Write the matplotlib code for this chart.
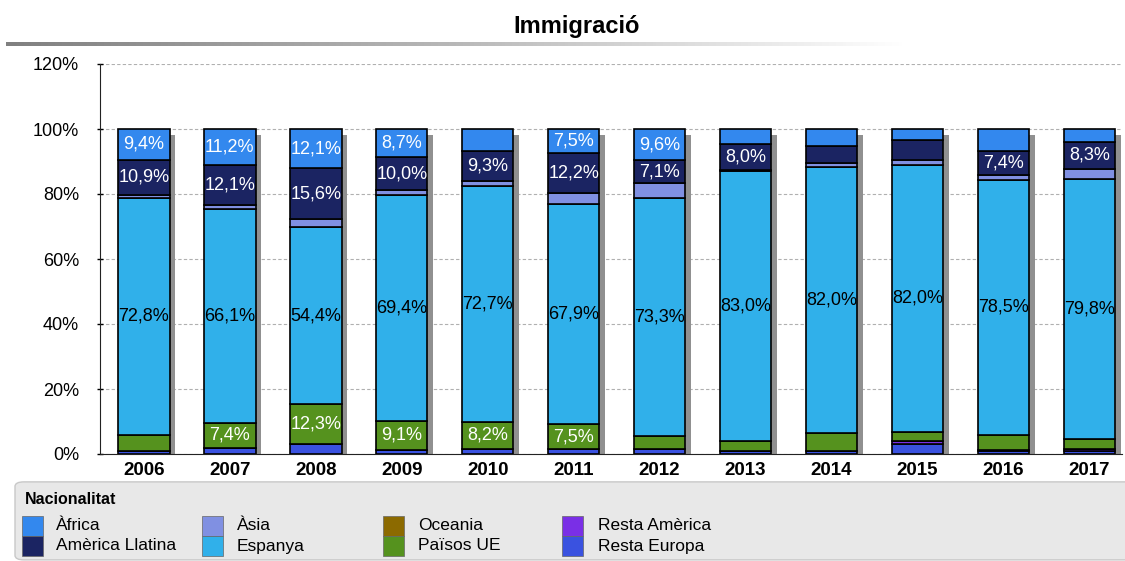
import matplotlib
matplotlib.use("Agg")
import matplotlib.pyplot as plt
import numpy as np
from matplotlib.patches import FancyBboxPatch, Rectangle
from matplotlib.colors import LinearSegmentedColormap

plt.rcParams['font.family'] = ['Liberation Sans', 'DejaVu Sans']

years = ['2006', '2007', '2008', '2009', '2010', '2011', '2012', '2013', '2014', '2015', '2016', '2017']
resta_europa = [1.0, 2.0, 3.1, 1.2, 1.6, 1.6, 1.5, 1.0, 1.0, 3.0, 1.0, 1.0]
resta_america = [0.0, 0.0, 0.0, 0.0, 0.0, 0.0, 0.0, 0.0, 0.0, 0.9, 0.3, 0.4]
oceania = [0.0, 0.0, 0.0, 0.0, 0.0, 0.0, 0.0, 0.0, 0.0, 0.0, 0.0, 0.0]
paisos_ue = [5.0, 7.4, 12.3, 9.1, 8.2, 7.5, 4.0, 3.0, 5.4, 3.0, 4.6, 3.3]
espanya = [72.8, 66.1, 54.4, 69.4, 72.7, 67.9, 73.3, 83.0, 82.0, 82.0, 78.5, 79.8]
asia = [0.9, 1.2, 2.5, 1.6, 1.5, 3.3, 4.5, 0.5, 1.2, 1.5, 1.5, 3.3]
america_llatina = [10.9, 12.1, 15.6, 10.0, 9.3, 12.2, 7.1, 8.0, 5.2, 6.1, 7.4, 8.3]
africa = [9.4, 11.2, 12.1, 8.7, 6.7, 7.5, 9.6, 4.5, 5.2, 3.5, 6.7, 3.9]

# stacking order bottom -> top
stack = [
    ('Resta Europa', resta_europa, '#3a52e0', 'white'),
    ('Resta Amèrica', resta_america, '#7a2fe6', 'white'),
    ('Oceania', oceania, '#8c6a00', 'white'),
    ('Països UE', paisos_ue, '#55921e', 'white'),
    ('Espanya', espanya, '#30b0ea', 'black'),
    ('Àsia', asia, '#8090e2', 'white'),
    ('Amèrica Llatina', america_llatina, '#1b2462', 'white'),
    ('Àfrica', africa, '#3388ee', 'white'),
]
legend_order = ['Àfrica', 'Amèrica Llatina', 'Àsia', 'Espanya',
                'Oceania', 'Països UE', 'Resta Amèrica', 'Resta Europa']
colors = {name: c for name, _, c, _ in stack}

W, H = 1125, 561
fig = plt.figure(figsize=(W / 100, H / 100), dpi=100)
ax = fig.add_axes([100 / W, 1 - 454 / H, 1022 / W, 390 / H])

x = np.arange(len(years))
bw = 0.6
# shadows
totals = np.sum([np.array(v) for _, v, _, _ in stack], axis=0)
ax.bar(x + 0.065, totals - 1.8, width=bw, color='#909090', zorder=1, linewidth=0)

bottom = np.zeros(len(years))
for name, vals, col, tcol in stack:
    vals = np.array(vals)
    ax.bar(x, vals, width=bw, bottom=bottom, color=col, edgecolor='black',
           linewidth=1.2, zorder=2)
    for i, v in enumerate(vals):
        if v >= 7:
            ax.text(x[i], bottom[i] + v / 2, f"{v:.1f}".replace('.', ',') + '%',
                    ha='center', va='center', color=tcol, fontsize=13, zorder=3)
    bottom += vals

ax.set_xlim(-0.51, 11.38)
ax.set_ylim(0, 120)
ax.set_yticks(range(0, 121, 20))
ax.set_yticklabels([f"{t}%" for t in range(0, 121, 20)], fontsize=13)
ax.set_xticks(x)
ax.set_xticklabels(years, fontsize=13.5, fontweight='bold')
ax.tick_params(axis='x', length=0, pad=6)
ax.tick_params(axis='y', length=4, width=1, pad=13, direction='inout')
ax.grid(axis='y', linestyle=(0, (3, 2)), color='#b0b0b0', linewidth=0.8, zorder=0)
ax.set_axisbelow(True)
for s in ['top', 'right']:
    ax.spines[s].set_visible(False)
ax.spines['left'].set_color('#222222')
ax.spines['bottom'].set_color('#222222')

# title
fig.text(577 / W, 1 - 27 / H, 'Immigració', ha='center', va='center',
         fontsize=17, fontweight='bold')
# gradient line below title
gax = fig.add_axes([6 / W, 1 - 46 / H, 900 / W, 4 / H])
grad = np.linspace(0, 1, 256)[None, :]
cmap = LinearSegmentedColormap.from_list('g', ['#808080', '#b8b8b8', '#ffffff'])
gax.imshow(grad, aspect='auto', cmap=cmap)
gax.axis('off')

# legend box
box = FancyBboxPatch((15 / W, 0.002), 1200 / W, 78 / H,
                     boxstyle='round,pad=0,rounding_size=0.008',
                     transform=fig.transFigure, facecolor='#e8e8e8',
                     edgecolor='#c8c8c8', linewidth=1, zorder=0)
fig.patches.append(box)
fig.text(25 / W, 1 - 500 / H, 'Nacionalitat', fontsize=11.5, fontweight='bold',
         ha='left', va='center')
col_patch_x = [22, 202, 383, 562]
col_text_x = [56, 237, 418, 598]
row_y = [526, 546]
for k, name in enumerate(legend_order):
    c, r = divmod(k, 2)
    y0 = row_y[r]
    rect = Rectangle((col_patch_x[c] / W, 1 - (y0 + 10) / H), 21 / W, 20 / H,
                     transform=fig.transFigure, facecolor=colors[name],
                     edgecolor='#666666', linewidth=0.5)
    fig.patches.append(rect)
    fig.text(col_text_x[c] / W, 1 - y0 / H, name, fontsize=12.5,
             ha='left', va='center')

fig.savefig('out.png', dpi=100)
